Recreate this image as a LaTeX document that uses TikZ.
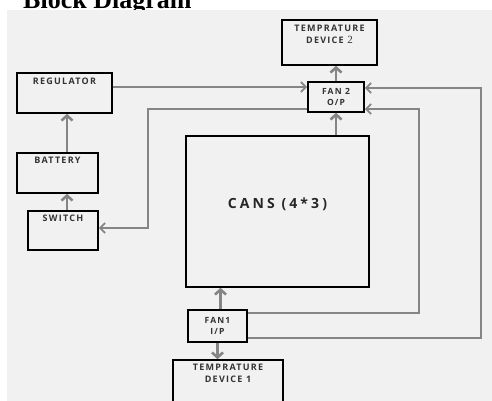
\documentclass[tikz,border=0pt]{standalone}
\usepackage{fontspec}
\setmainfont{Liberation Serif}
\setsansfont{Open Sans}
\newfontfamily\boxfont[LetterSpace=14]{Open Sans}
\newfontfamily\cansfont[LetterSpace=22]{Open Sans}
\usepackage{tikz}
\usetikzlibrary{positioning}
\usetikzlibrary{arrows.meta}
\definecolor{bggray}{HTML}{F1F1F1}
\definecolor{linegray}{HTML}{858585}
\definecolor{textgray}{HTML}{333333}

\begin{document}
\begin{tikzpicture}[x=1pt, y=-1pt,
blocknode/.style={rectangle, draw=black, line width=1.6pt, fill=bggray, inner sep=0pt},
boxlabel/.style={font=\boxfont\bfseries\fontsize{9}{12}\selectfont, text=textgray, align=center, anchor=north, inner sep=2pt},
fannode/.style={blocknode, font=\boxfont\bfseries\fontsize{8.5}{11}\selectfont, text=textgray, align=center},
stackarrow/.style={draw=linegray, line width=2.6pt, -{Straight Barb[length=5pt, width=11pt]}},
loopline/.style={draw=linegray, line width=1.8pt, -{Straight Barb[length=5pt, width=10pt]}},
]
\useasboundingbox (0,0) rectangle (492,401);
%Title and background
\node[font=\rmfamily\bfseries\fontsize{26}{30}\selectfont, anchor=base west, inner sep=0pt] (title) at (23,9) {Block Diagram};
\fill[bggray] (7,10) rectangle (492,401);

%Nodes
\node[blocknode, minimum width=95pt, minimum height=45pt] (td2) at (329.5,42.5)
  [label={[boxlabel, yshift=-4pt]north:TEMPRATURE\\DEVICE {\rmfamily\mdseries\fontsize{11}{11}\selectfont 2}}] {};
\node[fannode, minimum width=56pt, minimum height=30pt] (fan2) at (336,97) {FAN 2\\O/P};
\node[blocknode, minimum width=95pt, minimum height=40pt] (reg) at (64.5,93)
  [label={[boxlabel, yshift=-4pt]north:REGULATOR}] {};
\node[blocknode, minimum width=81pt, minimum height=40pt] (bat) at (57.5,173)
  [label={[boxlabel, yshift=-3pt]north:BATTERY}] {};
\node[blocknode, minimum width=70pt, minimum height=39pt] (sw) at (63,230.5)
  [label={[boxlabel, yshift=-3pt]north:SWITCH}] {};
\node[blocknode, minimum width=183pt, minimum height=151pt] (cans) at (277.5,211.5) {};
\node[font=\cansfont\bfseries\fontsize{14}{16}\selectfont, text=black!85] (canstext) at ([yshift=7pt]cans.center) {CANS (4*3)};
\node[fannode, minimum width=59pt, minimum height=32pt] (fan1) at (217.5,326) {FAN1\\I/P};
\node[blocknode, minimum width=110pt, minimum height=50pt] (td1) at (228,385)
  [label={[boxlabel, yshift=-3pt]north:TEMPRATURE\\DEVICE 1}] {};

%Points on the fan boxes
\coordinate (f2lu) at ([yshift=10pt]fan2.west);
\coordinate (f2ll) at ([yshift=-12pt]fan2.west);
\coordinate (f2ru) at ([yshift=9pt]fan2.east);
\coordinate (f2rl) at ([yshift=-12pt]fan2.east);
\coordinate (f1ru) at ([yshift=13pt]fan1.east);
\coordinate (f1rl) at ([yshift=-12pt]fan1.east);
\coordinate (swin) at ([yshift=2.5pt]sw.east);

%Lines
\draw[stackarrow] ([xshift=4pt]sw.north) -- ([xshift=4pt]sw.north |- bat.south);
\draw[stackarrow] ([xshift=4pt]sw.north |- bat.north) -- ([xshift=4pt]sw.north |- reg.south);
\draw[stackarrow] (fan2.north) -- (fan2.north |- td2.south);
\draw[stackarrow] (fan2.south |- cans.north) -- (fan2.south);
\draw[stackarrow] ([xshift=3pt]fan1.north) -- ([xshift=3pt]fan1.north |- cans.south);
\draw[stackarrow] (fan1.south) -- (fan1.south |- td1.north);
\draw[loopline] (reg.east |- f2lu) -- (f2lu);
\draw[loopline] (f2ll) -| ([xshift=49pt]swin) -- (swin);
\draw[loopline] (f1ru) -| ([xshift=54pt]f2rl) -- (f2rl);
\draw[loopline] (f1rl) -| ([xshift=116pt]f2ru) -- (f2ru);
\end{tikzpicture}
\end{document}
